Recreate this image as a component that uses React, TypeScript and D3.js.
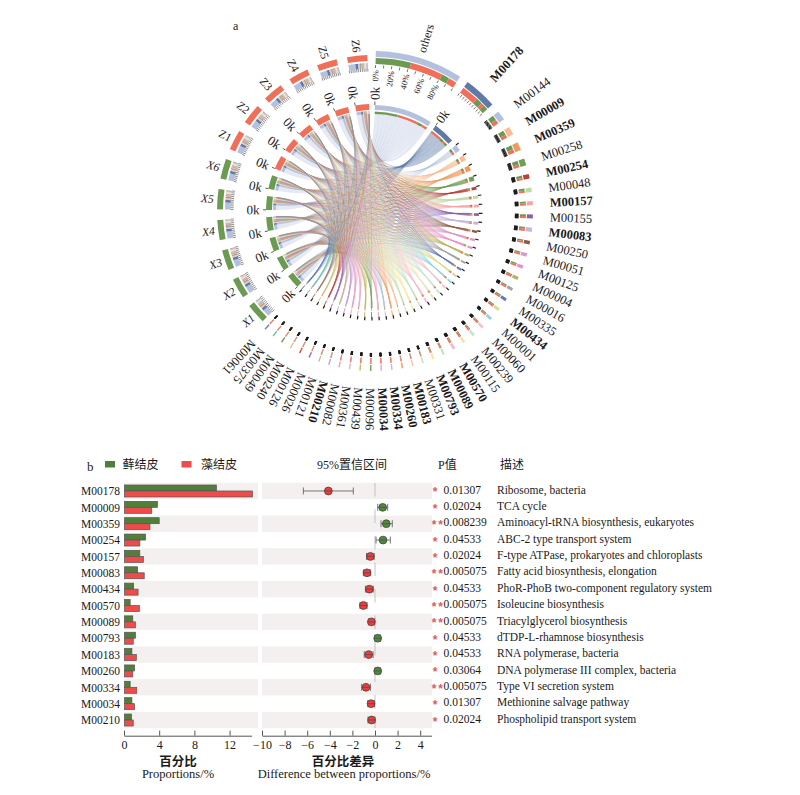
// @ts-nocheck
import React from "react";
import * as d3 from "d3";

const moduleNames = ["others","M00178","M00144","M00009","M00359","M00258","M00254","M00048","M00157","M00155","M00083","M00250","M00051","M00125","M00004","M00016","M00335","M00434","M00001","M00060","M00239","M00115","M00570","M00089","M00793","M00331","M00183","M00260","M00334","M00034","M00096","M00439","M00361","M00082","M00210","M00121","M00026","M00126","M00240","M00049","M00375","M00061"];
const moduleSizes = [32,12,3.5,3,3,2.5,1.7,1.6,1.5,1.5,1.5,1.3,1.3,1.2,1.2,1.1,1.1,1.1,1,1,1,1,1,0.8,0.8,0.55,0.55,0.55,0.55,0.55,0.55,0.55,0.55,0.5,0.5,0.5,0.5,0.5,0.5,0.5,0.5,0.5];
const moduleColors = ["#b4c1de","#5f79a8","#b4c1de","#f8bd93","#f09a5c","#6f9e55","#b8433c","#b9dd9f","#f5a6a6","#8862a9","#c8b4dc","#8b5b45","#d79ac9","#ee8fc9","#b5b35c","#a6a6a6","#6479ba","#dadc8f","#8fd3dc","#f4c2cf","#c3e6cf","#f3e1b8","#f6b8c8","#bfe5c0","#f5e7a5","#c9e4b4","#f8c8a0","#f4a060","#b4c4e4","#f0a8c0","#79a860","#c4c060","#f0b0c8","#e9a0cc","#c4a0d8","#c9b8a0","#9a6bb8","#c9503e","#cfc878","#9a8070","#6fc2b0","#5f7ab0"];
const moduleGreen = [0.51,0.35,0.55,0.6,0.55,0.6,0.55,0.5,0.45,0.45,0.4,0.45,0.4,0.4,0.4,0.4,0.4,0.4,0.4,0.4,0.4,0.4,0.3,0.4,0.5,0.4,0.4,0.5,0.3,0.4,0.4,0.4,0.4,0.4,0.4,0.4,0.4,0.4,0.4,0.4,0.4,0.4];
const othersStack = [0.42,0.39,0.09,0.10];
const m178Stack = [0.55,0.2,0.1,0.15];
const boldModules = ["M00178","M00009","M00359","M00254","M00157","M00083","M00434","M00570","M00089","M00793","M00183","M00260","M00334","M00034","M00210"];
const sampleNames = ["X1","X2","X3","X4","X5","X6","Z1","Z2","Z3","Z4","Z5","Z6"];
const sampleWeights = [0.17,0.16,0.17,0.17,0.16,0.17,0.17,0.16,0.17,0.17,0.16,0.17];
const pctLabels = ["0%","20%","40%","60%","80%"];

const rows = ["M00178","M00009","M00359","M00254","M00157","M00083","M00434","M00570","M00089","M00793","M00183","M00260","M00334","M00034","M00210"];
const mossPct = [10.5,3.8,4.0,2.45,1.8,1.55,1.1,0.7,1.0,1.3,0.9,1.2,0.7,0.9,0.85];
const algaePct = [14.6,3.15,2.95,1.8,2.2,2.3,1.6,1.75,1.3,1.05,1.4,1.0,1.45,1.2,1.05];
const diffMean = [-4.13,0.68,1.0,0.71,-0.41,-0.71,-0.5,-1.03,-0.32,0.24,-0.56,0.24,-0.8,-0.35,-0.3];
const diffLow = [-6.34,0.24,0.53,0.09,-0.75,-1.03,-0.85,-1.33,-0.58,0.0,-0.95,0.0,-1.18,-0.64,-0.62];
const diffHigh = [-1.92,1.12,1.53,1.36,-0.07,-0.38,-0.15,-0.7,-0.03,0.48,-0.17,0.48,-0.4,-0.05,0.0];
const pValues = ["0.01307","0.02024","0.008239","0.04533","0.02024","0.005075","0.04533","0.005075","0.005075","0.04533","0.04533","0.03064","0.005075","0.01307","0.02024"];
const stars = [1,1,2,1,1,2,1,2,2,1,1,1,2,1,1];
const descriptions = ["Ribosome, bacteria","TCA cycle","Aminoacyl-tRNA biosynthesis, eukaryotes","ABC-2 type transport system","F-type ATPase, prokaryotes and chloroplasts","Fatty acid biosynthesis, elongation","PhoR-PhoB two-component regulatory system","Isoleucine biosynthesis","Triacylglycerol biosynthesis","dTDP-L-rhamnose biosynthesis","RNA polymerase, bacteria","DNA polymerase III complex, bacteria","Type VI secretion system","Methionine salvage pathway","Phospholipid transport system"];
const propTicks = [0,4,8,12];
const diffTicks = [-10,-8,-6,-4,-2,0,2,4];

const GREEN = "#6d9a52";
const SALMON = "#ef6f58";
const BAR_GREEN = "#4f7f3a";
const BAR_RED = "#ee4b4b";
const SERIF = "'Liberation Serif','Noto Sans CJK SC',serif";
const SAMPLE_SIZE = 7.5;
const MODULE_GAP = 3.27;
const SAMPLE_GAP = 3.9;
const LINK_R = 97;
const LINK_H = 0.42; // how far the link handles reach towards the centre

const rad = (a) => (a * Math.PI) / 180;
const pt = (t, r) => [r * Math.sin(t), -r * Math.cos(t)];

// chord-diagram link: cubic sides instead of d3.ribbon's single control at the centre
const linkPath = (d) => {
  const p = d3.path();
  const { startAngle: s0, endAngle: s1 } = d.source;
  const { startAngle: t0, endAngle: t1 } = d.target;
  const h = LINK_R * LINK_H;
  const off = -Math.PI / 2;
  p.moveTo(...pt(s0, LINK_R));
  p.arc(0, 0, LINK_R, s0 + off, s1 + off);
  p.bezierCurveTo(...pt(s1, h), ...pt(t0, h), ...pt(t0, LINK_R));
  p.arc(0, 0, LINK_R, t0 + off, t1 + off);
  p.bezierCurveTo(...pt(t1, h), ...pt(s0, h), ...pt(s0, LINK_R));
  p.closePath();
  return p.toString();
};

const App = () => {
  const svgRef = React.useRef(null);

  React.useEffect(() => {
    const svgEl = d3.select(svgRef.current);
    svgEl.selectAll("*").remove();
    svgEl.append("rect").attr("width", 800).attr("height", 795).attr("fill", "#fff");
    const root = svgEl.append("g").attr("font-family", SERIF).attr("fill", "#1a1a1a");

    // ---- panel a: chord layout, angles in degrees clockwise from top
    const g = root.append("g").attr("transform", "translate(373,211)");
    const arc = d3.arc();
    const band = (parent, a0, a1, r0, r1, fill) =>
      parent.append("path")
        .attr("d", arc({ innerRadius: r0, outerRadius: r1, startAngle: rad(a0), endAngle: rad(a1) }))
        .attr("fill", fill);

    let cursor = 1;
    const modules = moduleNames.map((name, i) => {
      const m = { name, i, a0: cursor, a1: cursor + moduleSizes[i] };
      cursor = m.a1 + MODULE_GAP;
      return m;
    });
    cursor = 225;
    const samples = sampleNames.map((name, i) => {
      const s = { name, i, a0: cursor, a1: cursor + SAMPLE_SIZE };
      cursor = s.a1 + SAMPLE_GAP;
      return s;
    });

    // links: the sample end takes its share of the sector, the module end is split X then Z
    const total = d3.sum(moduleSizes);
    const sampleCursor = samples.map((s) => s.a0);
    const links = [];
    modules.forEach((m) => {
      const size = m.a1 - m.a0;
      const green = moduleGreen[m.i];
      let at = m.a0;
      samples.forEach((s) => {
        const isX = s.i < 6;
        const w = size * (isX ? green : 1 - green) * sampleWeights[s.i];
        const sw = (SAMPLE_SIZE * moduleSizes[m.i]) / total;
        links.push({
          m, s,
          source: { startAngle: rad(sampleCursor[s.i]), endAngle: rad(sampleCursor[s.i] + sw) },
          target: { startAngle: rad(at), endAngle: rad(at + w) },
          sa0: sampleCursor[s.i], sa1: sampleCursor[s.i] + sw,
        });
        sampleCursor[s.i] += sw;
        at += w;
      });
    });

    g.append("g").selectAll("path")
      .data(links)
      .enter()
      .append("path")
      .attr("d", linkPath)
      .attr("fill", (d) => moduleColors[d.m.i])
      .attr("fill-opacity", (d) => (d.m.i === 0 ? 0.35 : 0.45))
      .attr("stroke", (d) => moduleColors[d.m.i])
      .attr("stroke-opacity", (d) => (d.m.i < 3 ? 0.15 : 0.45))
      .attr("stroke-width", 0.32);

    const stackOf = (m) => {
      if (m.i === 0) return othersStack.map((v, k) => [v, k % 2 ? SALMON : GREEN]);
      if (m.i === 1) return m178Stack.map((v, k) => [v, k % 2 ? GREEN : SALMON]);
      return [[moduleGreen[m.i], GREEN], [1 - moduleGreen[m.i], SALMON]];
    };

    const tickLine = (parent, a, r0, r1, w) => {
      const t = rad(a);
      parent.append("line")
        .attr("x1", r0 * Math.sin(t)).attr("y1", -r0 * Math.cos(t))
        .attr("x2", r1 * Math.sin(t)).attr("y2", -r1 * Math.cos(t))
        .attr("stroke", "#1c1c1c").attr("stroke-width", w);
    };

    const outward = (parent, a, r, txt, size, anchor) =>
      parent.append("text")
        .attr("transform", `rotate(${a - 90}) translate(${r},0)`)
        .attr("text-anchor", anchor).attr("dy", "0.35em")
        .attr("font-size", size).text(txt);
    const inward = (parent, a, r, txt, size, style) =>
      parent.append("text")
        .attr("transform", `rotate(${a + 90}) translate(${-r},0)`)
        .attr("text-anchor", "middle").attr("dy", "0.35em")
        .attr("font-size", size).attr("font-style", style || "normal").text(txt);

    modules.forEach((m) => {
      const size = m.a1 - m.a0;
      const big = size > 10;
      band(g, m.a0, m.a1, 154, 160, moduleColors[m.i]);
      band(g, m.a0, m.a1, 101, 106, moduleColors[m.i]);
      let pos = m.a0;
      stackOf(m).forEach(([v, c]) => {
        band(g, pos, pos + size * v, 147, 153, c);
        band(g, pos, pos + size * v, 97, 99.5, c);
        pos += size * v;
      });
      d3.range(11).forEach((k) => {
        tickLine(g, m.a0 + (size * k) / 10, big ? 143 : 142, big ? 146 : 145.5, big ? 0.6 : 1);
      });
      tickLine(g, m.a0, 106, 109.5, big ? 0.7 : 1.2);
      const mid = (m.a0 + m.a1) / 2;
      const label = outward(g, mid, m.i === 0 ? 166 : 177, m.name, m.i === 0 ? 12 : 12.5, "start");
      if (boldModules.includes(m.name)) label.attr("font-weight", "bold");
      if (m.i < 2) outward(g, m.a0, 111, "0k", 13, "start");
    });
    pctLabels.forEach((p, k) => {
      outward(g, modules[0].a0 + ((modules[0].a1 - modules[0].a0) * k) / 5, 141, p, 8.5, "end");
    });

    samples.forEach((s) => {
      const c = s.i < 6 ? GREEN : SALMON;
      band(g, s.a0, s.a1, 150, 156, c);
      band(g, s.a0, s.a1, 101, 107, c);
      links.filter((l) => l.s === s).forEach((l) => {
        const color = moduleColors[l.m.i];
        band(g, l.sa0, l.sa1, 142.5, 148, color);
        band(g, l.sa0, l.sa1, 97, 100, color);
      });
      d3.range(11).forEach((k) => {
        tickLine(g, s.a0 + (SAMPLE_SIZE * k) / 10, 139.5, 142.5, 0.5);
      });
      tickLine(g, s.a0, 107, 110, 0.7);
      inward(g, (s.a0 + s.a1) / 2, 166, s.name, 11.5, s.i < 6 ? "italic" : "normal");
      inward(g, s.a0, 120, "0k", 13);
    });

    root.append("text").attr("x", 233).attr("y", 29.5).attr("font-size", 12).text("a");

    // ---- panel b
    root.append("text").attr("x", 87).attr("y", 471).attr("font-size", 13).text("b");
    const legend = [[105, BAR_GREEN, 122.5, "藓结皮"], [181.5, BAR_RED, 201, "藻结皮"]];
    legend.forEach(([x, color, tx, txt]) => {
      root.append("rect").attr("x", x).attr("y", 461).attr("width", 10).attr("height", 6.5).attr("fill", color);
      root.append("text").attr("x", tx).attr("y", 468.5).attr("font-size", 12).text(txt);
    });
    const head = [[317, "95%置信区间"], [438, "P值"], [500, "描述"]];
    head.forEach(([x, txt]) => {
      root.append("text").attr("x", x).attr("y", 468.5).attr("font-size", 12).text(txt);
    });

    const y = d3.scaleBand().domain(rows).range([482.8, 482.8 + 16.36 * 15]);
    const xProp = d3.scaleLinear().domain([0, 14.5]).range([124, 251.6]);
    const xDiff = d3.scaleLinear().domain([-10, 5]).range([262, 431.5]);

    rows.forEach((r, i) => {
      if (i % 2 === 0) {
        root.append("rect").attr("x", 124).attr("y", y(r)).attr("width", 134).attr("height", y.bandwidth()).attr("fill", "#f4f0f0");
        root.append("rect").attr("x", 262).attr("y", y(r)).attr("width", 170).attr("height", y.bandwidth()).attr("fill", "#f4f0f0");
      }
    });

    // zero line sits under the points
    root.append("line")
      .attr("x1", xDiff(0)).attr("x2", xDiff(0)).attr("y1", 483).attr("y2", 728)
      .attr("stroke", "#c4c0c0").attr("stroke-width", 1).attr("stroke-dasharray", "13.5 13");

    rows.forEach((r, i) => {
      const top = y(r);
      const mid = top + y.bandwidth() / 2;
      root.append("text").attr("x", 120).attr("y", mid + 4.2).attr("text-anchor", "end").attr("font-size", 11.5).text(r);
      root.append("rect").attr("x", 124.5).attr("y", mid - 6).attr("width", xProp(mossPct[i]) - 124.5).attr("height", 6)
        .attr("fill", BAR_GREEN).attr("stroke", "#555").attr("stroke-width", 0.7);
      root.append("rect").attr("x", 124.5).attr("y", mid).attr("width", xProp(algaePct[i]) - 124.5).attr("height", 6)
        .attr("fill", BAR_RED).attr("stroke", "#555").attr("stroke-width", 0.7);

      const c = diffMean[i] > 0 ? "#4f8a3a" : "#ee3b3b";
      const err = root.append("g").attr("stroke", "#555").attr("stroke-width", 0.8);
      err.append("line").attr("x1", xDiff(diffLow[i])).attr("x2", xDiff(diffHigh[i])).attr("y1", mid).attr("y2", mid);
      [diffLow[i], diffHigh[i]].forEach((v) => {
        err.append("line").attr("x1", xDiff(v)).attr("x2", xDiff(v)).attr("y1", mid - 3.5).attr("y2", mid + 3.5);
      });
      root.append("circle").attr("cx", xDiff(diffMean[i])).attr("cy", mid).attr("r", 3.9)
        .attr("fill", c).attr("stroke", "#444").attr("stroke-width", 0.8);
      root.append("line").attr("x1", xDiff(diffMean[i]) - 3.5).attr("x2", xDiff(diffMean[i]) + 3.5).attr("y1", mid).attr("y2", mid)
        .attr("stroke", "#444").attr("stroke-width", 0.6);

      (stars[i] === 2 ? [434, 440.5] : [435]).forEach((sx) => {
        root.append("text").attr("x", sx).attr("y", mid + 5.5).attr("text-anchor", "middle")
          .attr("font-size", 12).attr("font-family", "'Liberation Sans',sans-serif").attr("fill", "#d9605f").attr("font-weight", "bold")
          .text("*");
      });
      root.append("text").attr("x", 443.5).attr("y", mid + 2.7).attr("font-size", 11.5).text(pValues[i]);
      root.append("text").attr("x", 497).attr("y", mid + 2.7).attr("font-size", 11.5).text(descriptions[i]);
    });

    const axisY = 735.7;
    const styleAxis = (sel) => {
      sel.select(".domain").attr("stroke", "#555");
      sel.selectAll("line").attr("stroke", "#555");
      sel.selectAll("text").attr("font-size", 12).attr("font-family", SERIF).attr("fill", "#1a1a1a");
    };
    root.append("g").attr("transform", `translate(0,${axisY})`)
      .call(d3.axisBottom(xProp).tickValues(propTicks).tickSizeInner(-5).tickSizeOuter(0).tickPadding(5))
      .call(styleAxis);
    root.append("g").attr("transform", `translate(0,${axisY})`)
      .call(d3.axisBottom(xDiff).tickValues(diffTicks).tickSizeInner(-5).tickSizeOuter(0).tickPadding(5).tickFormat((d) => (d < 0 ? `−${-d}` : `${d}`)))
      .call(styleAxis);

    const footer = [[178, 765.5, 12.5, "百分比", "bold"], [178, 778, 12.5, "Proportions/%", "normal"], [343, 765.5, 12.5, "百分比差异", "bold"], [344, 778, 12.5, "Difference between proportions/%", "normal"]];
    footer.forEach(([x, yy, size, txt, weight]) => {
      root.append("text").attr("x", x).attr("y", yy).attr("text-anchor", "middle").attr("font-size", size).attr("font-weight", weight).text(txt);
    });
  }, []);

  return <svg ref={svgRef} width={800} height={795} style={{ position: "absolute", left: 0, top: 0 }} />;
};

export default App;
